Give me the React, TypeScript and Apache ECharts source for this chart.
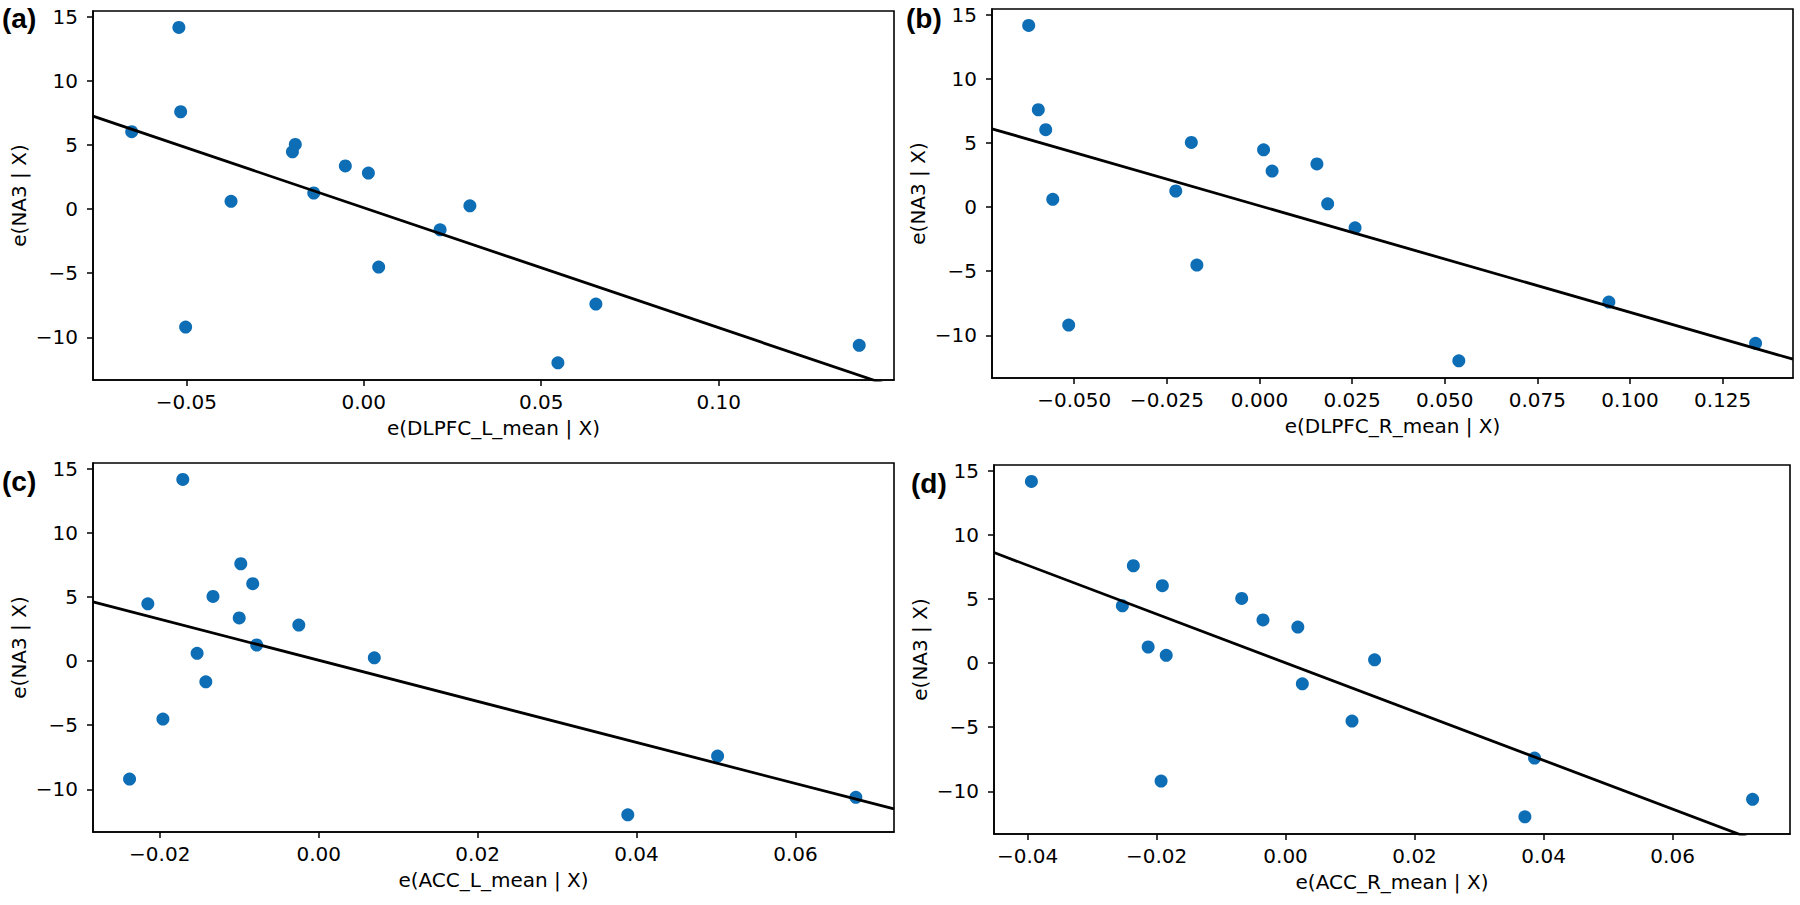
import React, { useEffect, useRef } from "react";
import * as echarts from "echarts";

// Shared response residuals e(NA3 | X)
const na3Resid = [14.15, 7.58, 6.03, 5.03, 4.46, 3.36, 2.8, 1.25, 0.6, 0.25, -1.62, -4.52, -7.4, -9.2, -10.62, -11.98];

// Predictor residuals per panel (same subject order as na3Resid)
const dlpfcLResid = [-0.0521, -0.0516, -0.0654, -0.0193, -0.0201, -0.0052, 0.0013, -0.0141, -0.0374, 0.0299, 0.0215, 0.0042, 0.0654, -0.0502, 0.1396, 0.0547];
const dlpfcRResid = [-0.0623, -0.0597, -0.0577, -0.0184, 0.0011, 0.0155, 0.0034, -0.0226, -0.0558, 0.0184, 0.0258, -0.0169, 0.0943, -0.0515, 0.1339, 0.0538];
const accLResid = [-0.0171, -0.0098, -0.0083, -0.0133, -0.0215, -0.01, -0.0025, -0.0078, -0.0153, 0.007, -0.0142, -0.0196, 0.0502, -0.0238, 0.0676, 0.0389];
const accRResid = [-0.0394, -0.0236, -0.0191, -0.0068, -0.0253, -0.0035, 0.0019, -0.0213, -0.0185, 0.0138, 0.0026, 0.0103, 0.0386, -0.0193, 0.0724, 0.0371];

// Fitted lines (slope, intercept)
const fitSlopes = [-93.5, -83, -160, -190];
const fitIntercepts = [0.1, 0.1, 0.06, 0.02];

// Axis limits and ticks
const xLimits = [
  [-0.0763, 0.1494],
  [-0.0722, 0.144],
  [-0.0284, 0.0724],
  [-0.0452, 0.0782],
];
const yLimits = [-13.32, 15.43];
const yTicks = [-10, -5, 0, 5, 10, 15];
const xTicksA = [-0.05, 0, 0.05, 0.1];
const xTicksB = [-0.05, -0.025, 0, 0.025, 0.05, 0.075, 0.1, 0.125];
const xTicksC = [-0.02, 0, 0.02, 0.04, 0.06];
const xTicksD = [-0.04, -0.02, 0, 0.02, 0.04, 0.06];
const xDecimals = [2, 3, 2, 2];

const xNames = ["e(DLPFC_L_mean | X)", "e(DLPFC_R_mean | X)", "e(ACC_L_mean | X)", "e(ACC_R_mean | X)"];
const yName = "e(NA3 | X)";
const panelLabels = ["(a)", "(b)", "(c)", "(d)"];

const xSeries = [dlpfcLResid, dlpfcRResid, accLResid, accRResid];
const xTickSets = [xTicksA, xTicksB, xTicksC, xTicksD];

const grids = [
  { left: 93, top: 11, width: 801, height: 369 },
  { left: 992, top: 9, width: 801, height: 369 },
  { left: 93, top: 463, width: 801, height: 369 },
  { left: 994, top: 465, width: 796, height: 369 },
];
const labelPos = [
  { x: 2, y: 4 },
  { x: 906, y: 4 },
  { x: 2, y: 467 },
  { x: 911, y: 469 },
];

const FONT = "'DejaVu Sans', sans-serif";
const DOT = "#0d6db5";

function fmt(v: number, dec: number) {
  const s = Math.abs(v).toFixed(dec);
  return (v < -1e-9 ? "\u2212" : "") + s;
}

export default function App() {
  const ref = useRef<HTMLDivElement>(null);
  useEffect(() => {
    if (!ref.current) return;
    const chart = echarts.init(ref.current, null, { renderer: "svg" });
    const axisCommon = {
      axisLine: { show: true, onZero: false, lineStyle: { color: "#000", width: 1.6 } },
      axisTick: { show: true, inside: false, length: 6, lineStyle: { color: "#000", width: 1.5 } },
      splitLine: { show: false },
    };
    const xAxis = grids.map((_, i) => ({
      type: "value",
      gridIndex: i,
      min: xLimits[i][0],
      max: xLimits[i][1],
      ...axisCommon,
      axisTick: { ...axisCommon.axisTick, customValues: xTickSets[i] },
      axisLabel: {
        customValues: xTickSets[i],
        formatter: (v: number) => fmt(v, xDecimals[i]),
        color: "#000",
        fontFamily: FONT,
        fontSize: 20,
        margin: 12,
      },
      name: xNames[i],
      nameLocation: "middle",
      nameGap: 38,
      nameTextStyle: { color: "#000", fontFamily: FONT, fontSize: 20 },
    }));
    const yAxis = grids.map((_, i) => ({
      type: "value",
      gridIndex: i,
      min: yLimits[0],
      max: yLimits[1],
      ...axisCommon,
      axisTick: { ...axisCommon.axisTick, customValues: yTicks },
      axisLabel: {
        customValues: yTicks,
        formatter: (v: number) => fmt(v, 0),
        color: "#000",
        fontFamily: FONT,
        fontSize: 20,
        margin: 15,
      },
      name: yName,
      nameLocation: "middle",
      nameRotate: 90,
      nameGap: 64,
      nameTextStyle: { color: "#000", fontFamily: FONT, fontSize: 20 },
    }));
    const series: any[] = [];
    grids.forEach((_, i) => {
      series.push({
        type: "scatter",
        xAxisIndex: i,
        yAxisIndex: i,
        data: xSeries[i].map((x, k) => [x, na3Resid[k]]),
        symbolSize: 13,
        itemStyle: { color: DOT, opacity: 1 },
        z: 2,
      });
      const [x0, x1] = xLimits[i];
      series.push({
        type: "line",
        xAxisIndex: i,
        yAxisIndex: i,
        data: [
          [x0, fitSlopes[i] * x0 + fitIntercepts[i]],
          [x1, fitSlopes[i] * x1 + fitIntercepts[i]],
        ],
        showSymbol: false,
        symbol: "none",
        clip: true,
        lineStyle: { color: "#000", width: 2.8 },
        z: 3,
      });
    });
    chart.setOption({
      animation: false,
      backgroundColor: "#fff",
      grid: grids.map((g) => ({
        ...g,
        show: true,
        borderColor: "#000",
        borderWidth: 1.6,
        backgroundColor: "transparent",
        containLabel: false,
      })),
      xAxis,
      yAxis,
      series,
      graphic: panelLabels.map((t, i) => ({
        type: "text",
        x: labelPos[i].x,
        y: labelPos[i].y,
        style: {
          text: t,
          fill: "#000",
          fontFamily: "'Liberation Sans', Arial, sans-serif",
          fontWeight: "bold",
          fontSize: 28,
        },
      })),
    });
    return () => chart.dispose();
  }, []);
  return (
    <div
      ref={ref}
      style={{ position: "absolute", left: 0, top: 0, width: 1800, height: 905, background: "#fff" }}
    />
  );
}
